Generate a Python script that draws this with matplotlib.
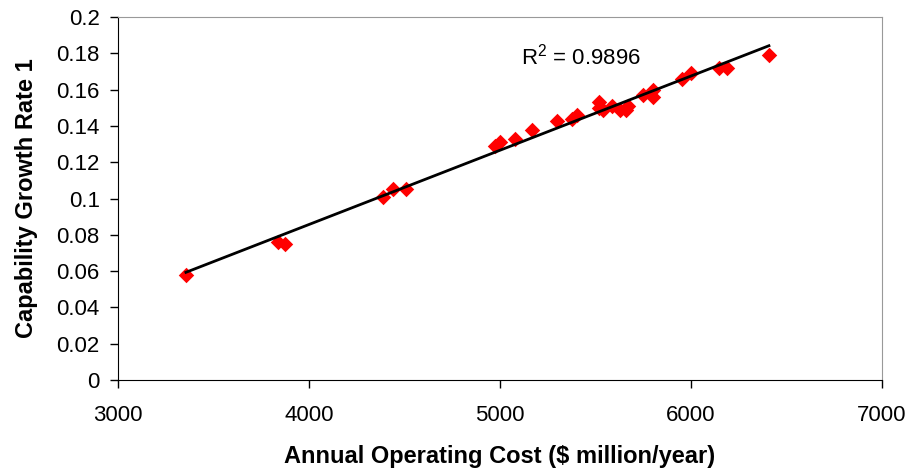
import matplotlib.pyplot as plt
import numpy as np
from matplotlib.ticker import FuncFormatter

# annual operating cost ($ million/year) vs capability growth rate
cost = [3356, 3838, 3874, 4387, 4440, 4508, 4974, 5000, 5079, 5168,
        5298, 5377, 5403, 5520, 5520, 5540, 5586, 5628, 5660, 5670,
        5749, 5800, 5800, 5953, 6000, 6147, 6188, 6408]
growth = [0.058, 0.076, 0.075, 0.101, 0.105, 0.105, 0.129, 0.131, 0.133, 0.138,
          0.143, 0.144, 0.146, 0.153, 0.150, 0.149, 0.151, 0.149, 0.149, 0.151,
          0.157, 0.160, 0.156, 0.166, 0.169, 0.172, 0.172, 0.179]
r2_text = 'R$^2$ = 0.9896'
x_ticks = [3000, 4000, 5000, 6000, 7000]
y_ticks = [0, 0.02, 0.04, 0.06, 0.08, 0.1, 0.12, 0.14, 0.16, 0.18, 0.2]

plt.rcParams['font.family'] = ['Liberation Sans', 'DejaVu Sans']
plt.rcParams['mathtext.fontset'] = 'custom'
plt.rcParams['mathtext.rm'] = 'Liberation Sans'

fig = plt.figure(figsize=(9.14, 4.75), dpi=100)
ax = fig.add_axes([0.129, 0.2, 0.836, 0.764])

x = np.array(cost)
y = np.array(growth)
ax.scatter(x, y, marker='D', s=62, color='#ff0000', zorder=2, linewidths=0)

# linear trend line
k, b = np.polyfit(x, y, 1)
xl = np.array([x.min(), x.max()])
ax.plot(xl, k * xl + b, color='black', lw=2, zorder=3)

ax.text(5110, 0.1785, r2_text, fontsize=16, va='center', ha='left')

ax.set_xlim(3000, 7000)
ax.set_ylim(0, 0.2)
ax.set_xticks(x_ticks)
ax.set_yticks(y_ticks)
ax.yaxis.set_major_formatter(FuncFormatter(lambda v, p: '%g' % round(v, 2)))
ax.tick_params(labelsize=16, direction='out', length=6, width=1)
ax.tick_params(axis='x', pad=12)
ax.tick_params(axis='y', pad=7)

ax.set_xlabel('Annual Operating Cost ($ million/year)', fontsize=17,
              fontweight='bold', labelpad=14)
ax.set_ylabel('Capability Growth Rate 1', fontsize=17, fontweight='bold',
              labelpad=13)

for s in ('top', 'right'):
    ax.spines[s].set_color('#999999')
for s in ('left', 'bottom'):
    ax.spines[s].set_color('black')

fig.savefig('out.png', dpi=100)
